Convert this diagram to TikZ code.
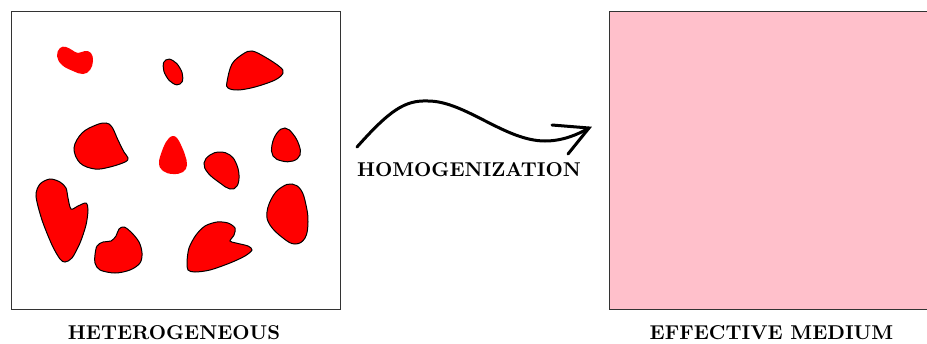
\documentclass[tikz,border=0pt]{standalone}
\definecolor{blobred}{RGB}{255,0,0}
\definecolor{medium}{RGB}{255,192,203}
\tikzset{
  blob/.style={fill=blobred, draw=black, line width=0.5pt},
  blobplain/.style={fill=blobred, draw=none},
  frame/.style={draw=black!80, line width=0.5pt},
  lbl/.style={font=\bfseries, inner sep=0pt},
  flow/.style={line width=1.5pt, line cap=round}
}
\begin{document}
\begin{tikzpicture}[x=0.5pt,y=-0.5pt]
\useasboundingbox (0,0) rectangle (927,343);
\clip (0,0) rectangle (927,343);
% left box
\draw[frame] (11,11) rectangle (340,309);
% right box
\draw[frame, fill=medium] (609,11) rectangle (938,309);
% blobs
\fill[blobplain] plot[smooth cycle, tension=0.7] coordinates {(57,56) (60,48) (66,47) (72,50) (78,53) (85,51) (91,53) (93,61) (90,70) (83,74) (73,71) (62,65)};
\draw[blob] plot[smooth cycle, tension=0.8] coordinates {(180,84) (173,83.4) (166.1,76) (163.2,66.3) (166,59.9) (173,60.6) (179.9,68) (182.8,77.7)};
\draw[blob] plot[smooth cycle, tension=0.6] coordinates {(227,82) (232,64) (243,54) (252,51) (265,57) (280,67) (283,73) (275,80) (255,87) (238,90) (228,88)};
\draw[blob] plot[smooth cycle, tension=0.6] coordinates {(74,148) (82,133) (96,125) (106,123) (112,127) (118,140) (124,152) (128,158) (125,162) (110,167) (95,169) (80,163)};
\fill[blobplain] plot[smooth cycle, tension=0.7] coordinates {(173,136) (177,138) (181,145) (185,155) (187,165) (183,172) (173,174) (163,171) (159,163) (162,151) (166,142) (169,138)};
\draw[blob] plot[smooth cycle, tension=0.7] coordinates {(204,163) (210,155) (220,152) (230,155) (236,163) (239,175) (237,186) (230,189) (220,183) (208,173)};
\draw[blob] plot[smooth cycle, tension=0.7] coordinates {(285,128) (293,134) (299,145) (300,155) (293,161) (282,161) (273,156) (272,145) (277,133)};
\draw[blob] plot[smooth cycle, tension=0.5] coordinates {(36,196) (40,184) (50,179) (60,182) (66,188) (68,198) (71,209) (78,206) (86,203) (88,210) (86,225) (80,243) (72,258) (65,262) (60,259) (52,245) (42,220)};
\draw[blob] plot[smooth cycle, tension=0.55] coordinates {(95,255) (97,246) (103,242) (111,241) (116,236) (119,229) (124,227) (131,232) (139,242) (142,253) (140,263) (130,270) (115,273) (100,270) (95,263)};
\draw[blob] plot[smooth cycle, tension=0.5] coordinates {(187,262) (189,248) (196,235) (205,226) (217,222) (228,223) (235,228) (234,235) (230,241) (236,243) (248,246) (252,250) (245,256) (230,263) (210,270) (195,272) (188,270)};
\draw[blob] plot[smooth cycle, tension=0.7] coordinates {(292,184) (301,190) (306,205) (308,222) (305,238) (295,244) (283,238) (270,225) (267,212) (273,196) (282,187)};
% arrow
\coordinate (s) at (357,147);
\coordinate (pk) at (428,101);
\coordinate (vl) at (545,141);
\coordinate (tip) at (589,128);
\coordinate (b1) at (552,125);
\coordinate (b2) at (568,154);
\draw[flow] (s) .. controls (390,110) and (405,100) .. (pk)
  .. controls (465,101) and (505,141) .. (vl)
  .. controls (562,141) and (577,135) .. (tip);
\draw[flow, line join=miter] (b1) -- (tip) -- (b2);
% labels
\node[lbl] (het) at (174,333) {HETEROGENEOUS};
\node[lbl] (hom) at (469,170) {HOMOGENIZATION};
\node[lbl] (eff) at (771.5,333) {EFFECTIVE MEDIUM};
\end{tikzpicture}
\end{document}
